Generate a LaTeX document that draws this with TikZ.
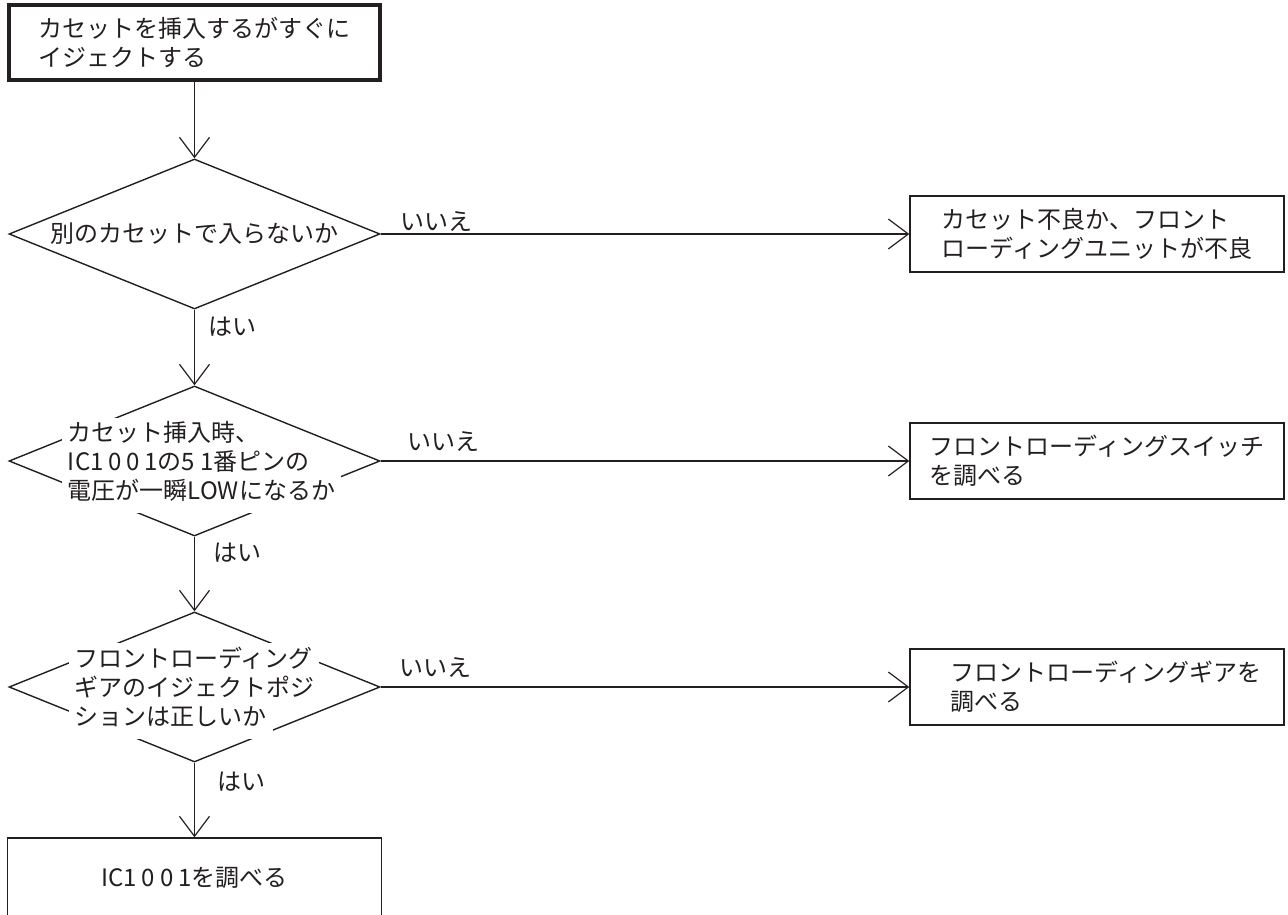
\documentclass[tikz,border=0pt]{standalone}
\usepackage{fontspec}
\setmainfont{Noto Sans CJK JP}
\usepackage{tikz}
\usetikzlibrary{shapes.geometric,arrows.meta}
\definecolor{FCInk}{HTML}{231F20}
\setlength{\fboxsep}{2pt}
\newcommand\wline[1]{\strut\smash{\colorbox{white}{\hspace{1pt}\strut#1\hspace{1pt}}}}
\newcommand\dg[1]{{\addfontfeature{LetterSpace=20}#1}}

\begin{document}
\begin{tikzpicture}[x=0.5pt,y=-0.5pt,
  every node/.style={font=\fontsize{12}{14.5}\selectfont,text=FCInk},
  flow/.style={draw=FCInk,line width=0.6pt,-{Straight Barb[length=10pt,width=15pt]}},
  procbox/.style={draw=FCInk,line width=0.7pt,minimum width=187pt,minimum height=38pt,align=left,inner sep=0pt},
  decide/.style={diamond,draw=FCInk,line width=0.7pt,minimum width=185.5pt,minimum height=75pt,aspect=2.47,inner sep=0pt},
  ans/.style={inner sep=0pt}]
\path[use as bounding box] (0,0) rectangle (1288,914);
\clip (0,0) rectangle (1288,914);
% left column
\node[procbox,line width=2pt,minimum width=185.5pt,minimum height=37.5pt] (start) at (194.5,42.5) {カセットを挿入するがすぐに\\イジェクトする};
\node[decide] (d1) at (194.5,234) {別のカセットで入らないか};
\node[decide] (d2) at (194.5,461) {};
\node[decide] (d3) at (194.5,687) {};
\node[align=left,xshift=3.5pt,yshift=-2pt] (t2) at (d2) {\wline{カセット挿入時、}\\\wline{IC\dg{1001}の\dg{51}番ピンの}\\\wline{電圧が一瞬LOWになるか}};
\node[align=left,yshift=-2pt] (t3) at (d3) {\wline{フロントローディング}\\\wline{ギアのイジェクトポジ}\\\wline{ションは正しいか}};
\node[procbox,minimum height=40pt] (check) at (194.5,878) {IC\dg{1001}を調べる};
% right column
\node[procbox] (r1) at (1097,234) {カセット不良か、フロント\\ローディングユニットが不良};
\node[procbox] (r2) at (1097,461) {フロントローディングスイッチ\\を調べる};
\node[procbox] (r3) at (1097,687) {\hspace*{9pt}フロントローディングギアを\\\hspace*{9pt}調べる};
% connectors
\draw[flow] (start.south) -- (d1.north);
\draw[flow] (d1.south) -- node[ans,pos=0.22,anchor=west,xshift=6.5pt] (y1) {はい} (d2.north);
\draw[flow] (d2.south) -- node[ans,pos=0.22,anchor=west,xshift=9pt] (y2) {はい} (d3.north);
\draw[flow] (d3.south) -- node[ans,pos=0.25,anchor=west,xshift=11pt] (y3) {はい} (check.north);
\draw[flow] (d1.east) -- node[ans,pos=0,anchor=south west,xshift=9.5pt,yshift=1pt] (n1) {いいえ} (r1.west);
\draw[flow] (d2.east) -- node[ans,pos=0,anchor=south west,xshift=13pt,yshift=4.5pt] (n2) {いいえ} (r2.west);
\draw[flow] (d3.east) -- node[ans,pos=0,anchor=south west,xshift=9pt,yshift=4.5pt] (n3) {いいえ} (r3.west);
\end{tikzpicture}
\end{document}
